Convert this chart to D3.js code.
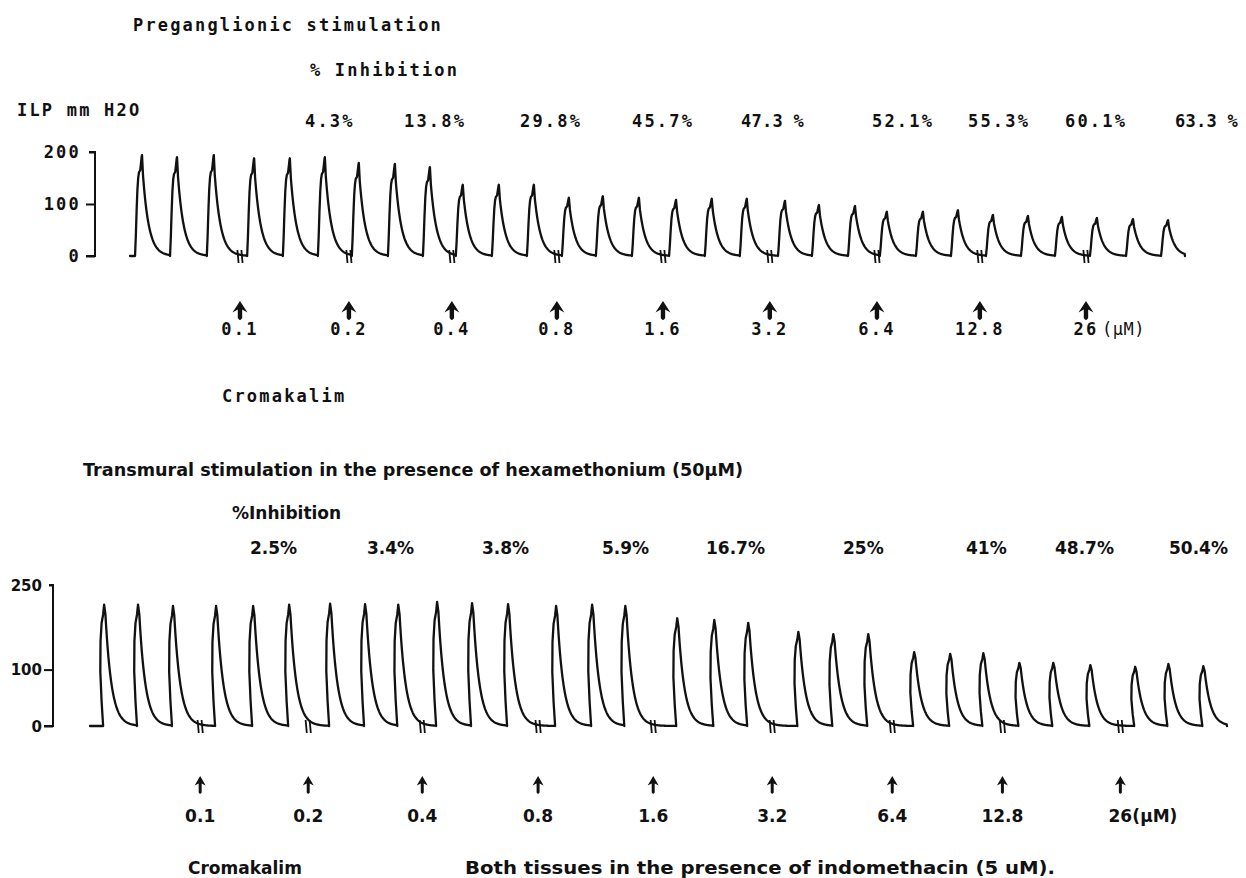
<!DOCTYPE html>
<html>
<head>
<meta charset="utf-8">
<script src="https://cdn.jsdelivr.net/npm/d3@7"></script>
<style>
  html, body { margin: 0; padding: 0; background: #fff; }
  svg { display: block; }
</style>
</head>
<body>
<svg id="chart" width="1246" height="878"></svg>
<script>
// ---------- data ----------
// Cromakalim concentrations added cumulatively (µM)
const doseLabels = ["0.1", "0.2", "0.4", "0.8", "1.6", "3.2", "6.4", "12.8", "26"];

// Preganglionic stimulation: contraction peaks (ILP, mm H2O) and their times (min)
const pregTimes = [0.34, 1.33, 2.37, 3.51, 4.52, 5.51, 6.47, 7.49, 8.48, 9.41,
                   10.43, 11.42, 12.41, 13.37, 14.39, 15.44, 16.45, 17.44, 18.52, 19.48,
                   20.50, 21.40, 22.42, 23.41, 24.40, 25.39, 26.35, 27.34, 28.36, 29.35];
const pregPeaks = [194, 190, 194, 188, 188, 190, 179, 177, 171, 137,
                   137, 137, 112, 115, 112, 108, 110, 110, 106, 98,
                   96, 85, 85, 88, 79, 77, 75, 73, 71, 69];
const pregDoseTimes = [3.11, 6.19, 9.10, 12.07, 15.07, 18.09, 21.12, 24.03, 27.03];
const pregInhibition = ["4.3%", "13.8%", "29.8%", "45.7%", "47.3 %", "52.1%", "55.3%", "60.1%", "63.3 %"];
const pregTicks = [0, 100, 200];
const pregEnd = 29.83;

// Transmural stimulation with hexamethonium
const transTimes = [0.40, 1.36, 2.35, 3.57, 4.62, 5.64, 6.80, 7.79, 8.73, 9.83,
                    10.82, 11.84, 13.20, 14.22, 15.16, 16.63, 17.68, 18.64, 20.06, 21.05,
                    22.04, 23.34, 24.36, 25.30, 26.32, 27.28, 28.33, 29.60, 30.54, 31.53];
const transPeaks = [215, 215, 213, 213, 213, 215, 217, 216, 215, 220,
                    218, 216, 213, 215, 213, 191, 188, 183, 167, 163,
                    163, 131, 128, 129, 112, 112, 108, 105, 110, 106];
const transDoseTimes = [3.12, 6.18, 9.41, 12.69, 15.95, 19.32, 22.72, 25.84, 29.18];
const transInhibition = ["2.5%", "3.4%", "3.8%", "5.9%", "16.7%", "25%", "41%", "48.7%", "50.4%"];
const transTicks = [0, 100, 250];
const transEnd = 32.2;

// ---------- drawing ----------
const svg = d3.select("#chart");
const INK = "#111";

// pen-recorder contraction shapes: [time offset from peak (min), fraction of peak]
const pregShape = {
  rise: [[-0.198, 0], [-0.175, 0.2], [-0.153, 0.45], [-0.130, 0.66], [-0.107, 0.78],
         [-0.085, 0.83], [-0.051, 0.85], [-0.008, 0.99], [0, 1], [0.014, 0.9], [0.028, 0.8]],
  decayFrom: 0.028, decayFrac: 0.8, tau: 0.17
};
const transShape = {
  rise: [[-0.028, 0], [-0.071, 0.2], [-0.108, 0.45], [-0.102, 0.7], [-0.071, 0.85],
         [-0.028, 0.92], [0, 1], [0.037, 0.92]],
  decayFrom: 0.037, decayFrac: 0.92, tau: 0.176
};

function tracePoints(times, peaks, end, shape) {
  const pts = [[0, 0]];
  times.forEach((t, i) => {
    const A = peaks[i];
    const next = i < times.length - 1 ? times[i + 1] + shape.rise[0][0] : end;
    shape.rise.forEach(([dt, f]) => pts.push([t + dt, A * f]));
    for (let dt = shape.decayFrom + 0.01; t + dt < next; dt += 0.012) {
      pts.push([t + dt, A * shape.decayFrac * Math.exp(-(dt - shape.decayFrom) / shape.tau)]);
    }
    pts.push([next, 0]);
  });
  return pts;
}

function arrowPath(big) {
  return big
    ? "M0,0 L7.5,11.5 L2.2,8.6 L2.2,17 Q0,21 -2.2,17 L-2.2,8.6 L-7.5,11.5 Z"
    : "M0,0 L5.5,9.5 L1.5,7.4 L1.5,16.5 Q0,19 -1.5,16.5 L-1.5,7.4 L-5.5,9.5 Z";
}

function drawPanel(cfg) {
  const g = svg.append("g");
  const x = d3.scaleLinear().domain([0, cfg.end]).range(cfg.xRange);
  const y = d3.scaleLinear().domain(cfg.yDomain).range(cfg.yRange);

  // trace
  const line = d3.line().x(d => x(d[0])).y(d => y(d[1]));
  g.append("path")
    .datum(tracePoints(cfg.times, cfg.peaks, cfg.end, cfg.shape))
    .attr("d", line)
    .attr("fill", "none")
    .attr("stroke", INK)
    .attr("stroke-width", 2.3)
    .attr("stroke-linejoin", "round")
    .attr("stroke-linecap", "round");

  // drug-addition marks on the baseline
  g.selectAll("g.mark").data(cfg.doseTimes).join("g")
    .attr("class", "mark")
    .attr("transform", d => `translate(${x(d)},${y(0)})`)
    .each(function () {
      const m = d3.select(this);
      [-2, 2].forEach(dx => m.append("line")
        .attr("x1", dx - 0.6).attr("x2", dx + 0.6)
        .attr("y1", -6).attr("y2", 7)
        .attr("stroke", INK).attr("stroke-width", 1.8));
    });

  // y axis bracket
  const axis = d3.axisLeft(y).tickValues(cfg.ticks).tickSize(cfg.tickLen).tickPadding(cfg.tickPad)
    .tickFormat(d3.format("d"));
  const ax = g.append("g").attr("transform", `translate(${cfg.axisX},0)`).call(axis);
  ax.select(".domain").attr("stroke", INK).attr("stroke-width", 2).attr("d",
    `M${-cfg.hook},${y(cfg.ticks[cfg.ticks.length - 1])}H0V${y(0)}H${-cfg.tickLen}`);
  ax.selectAll(".tick line").attr("stroke", INK).attr("stroke-width", 2)
    .filter(d => d === cfg.ticks[cfg.ticks.length - 1]).attr("x2", -cfg.hook);
  ax.selectAll(".tick text")
    .attr("fill", INK)
    .attr("font-family", cfg.font)
    .attr("font-weight", 700)
    .attr("font-size", cfg.tickFont)
    .attr("letter-spacing", cfg.spacing)
    .attr("dy", "0.35em");

  // arrows for each addition
  g.selectAll("path.arrow").data(cfg.doseTimes).join("path")
    .attr("class", "arrow")
    .attr("d", arrowPath(cfg.bigArrow))
    .attr("transform", d => `translate(${x(d)},${cfg.arrowY})`)
    .attr("fill", INK);

  // concentration labels
  g.selectAll("text.dose").data(doseLabels).join("text")
    .attr("class", "dose")
    .attr("x", (d, i) => x(cfg.doseTimes[i]))
    .attr("y", cfg.doseLabelY)
    .attr("text-anchor", "middle")
    .attr("font-family", cfg.font).attr("font-weight", 700)
    .attr("font-size", cfg.labelFont).attr("letter-spacing", cfg.spacing)
    .attr("fill", INK)
    .text(d => d);
  g.append("text")
    .attr("x", x(cfg.doseTimes[cfg.doseTimes.length - 1]) + cfg.unitDx)
    .attr("y", cfg.doseLabelY)
    .attr("font-family", cfg.font).attr("font-weight", cfg.unitWeight)
    .attr("font-size", cfg.labelFont).attr("letter-spacing", cfg.unitSpacing)
    .attr("fill", INK)
    .text("(µM)");

  // % inhibition values
  g.selectAll("text.pct").data(cfg.inhibition).join("text")
    .attr("class", "pct")
    .attr("x", (d, i) => cfg.pctX[i])
    .attr("y", cfg.pctY)
    .attr("font-family", cfg.font).attr("font-weight", 700)
    .attr("font-size", cfg.labelFont).attr("letter-spacing", cfg.spacing)
    .attr("fill", INK)
    .text(d => d)
    .each(function (d) {
      // spaced entries were typed with a narrow gap before the sign
      if (d.includes(" ")) d3.select(this).attr("textLength", cfg.spacedLen).attr("lengthAdjust", "spacing");
    });

  // free text
  cfg.texts.forEach(t => {
    const el = g.append("text")
      .attr("x", t.x).attr("y", t.y)
      .attr("font-family", cfg.font)
      .attr("font-weight", t.weight || 700)
      .attr("font-size", t.size || cfg.labelFont)
      .attr("letter-spacing", cfg.spacing)
      .attr("fill", INK)
      .text(t.text);
    if (t.len) el.attr("textLength", t.len).attr("lengthAdjust", "spacingAndGlyphs");
  });
}

const MONO = "'DejaVu Sans Mono', 'Liberation Mono', monospace";
const GOTHIC = "'DejaVu Sans', Verdana, sans-serif";

drawPanel({
  times: pregTimes, peaks: pregPeaks, doseTimes: pregDoseTimes, inhibition: pregInhibition,
  end: pregEnd, shape: pregShape, ticks: pregTicks,
  xRange: [130, 1185], yDomain: [0, 200], yRange: [256, 152],
  axisX: 95, tickLen: 9, hook: 6, tickPad: 5, tickFont: 17,
  font: MONO, spacing: 2.2, labelFont: 17,
  bigArrow: true, arrowY: 301, doseLabelY: 335, unitDx: 16, unitSpacing: 0.5, unitWeight: 400,
  pctX: [305, 404, 520, 632, 741, 872, 968, 1065, 1175], pctY: 127, spacedLen: 65,
  texts: [
    { text: "Preganglionic stimulation", x: 133, y: 31, len: 310 },
    { text: "% Inhibition", x: 310, y: 76 },
    { text: "ILP mm H2O", x: 17, y: 116 },
    { text: "Cromakalim", x: 222, y: 402 }
  ]
});

drawPanel({
  times: transTimes, peaks: transPeaks, doseTimes: transDoseTimes, inhibition: transInhibition,
  end: transEnd, shape: transShape, ticks: transTicks,
  xRange: [90, 1227], yDomain: [0, 250], yRange: [726, 585],
  axisX: 53, tickLen: 9, hook: 4, tickPad: 2, tickFont: 15,
  font: GOTHIC, spacing: 0, labelFont: 17,
  bigArrow: false, arrowY: 776, doseLabelY: 822, unitDx: 12, unitSpacing: 0, unitWeight: 700,
  pctX: [250, 367, 482, 602, 706, 843, 966, 1055, 1169], pctY: 554, spacedLen: 56,
  texts: [
    { text: "Transmural stimulation in the presence of hexamethonium (50µM)", x: 83, y: 476, len: 660 },
    { text: "%Inhibition", x: 232, y: 519 },
    { text: "Cromakalim", x: 188, y: 874 },
    { text: "Both tissues in the presence of indomethacin (5 uM).", x: 465, y: 874, len: 590 }
  ]
});
</script>
</body>
</html>
